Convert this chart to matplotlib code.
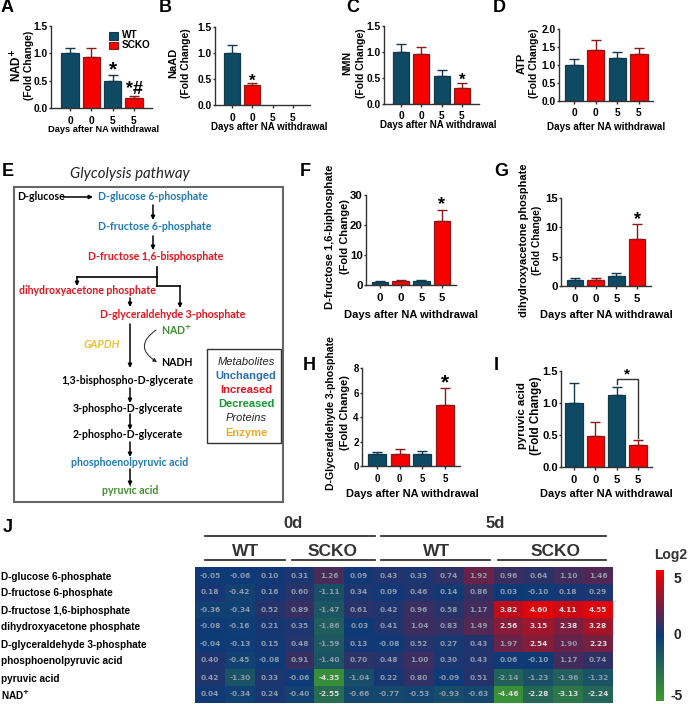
import numpy as np
import matplotlib
matplotlib.use('Agg')
import matplotlib.pyplot as plt
from matplotlib.colors import LinearSegmentedColormap
from matplotlib.patches import Rectangle

# ================= DATA =================
days = ['0', '0', '5', '5']

nad_vals = [1.0, 0.93, 0.49, 0.18]
nad_err = [0.10, 0.16, 0.12, 0.04]
naad_vals = [1.0, 0.38, 0, 0]
naad_err = [0.16, 0.04, 0, 0]
nmn_vals = [1.0, 0.95, 0.53, 0.31]
nmn_err = [0.15, 0.15, 0.12, 0.08]
atp_vals = [1.0, 1.43, 1.21, 1.30]
atp_err = [0.17, 0.27, 0.15, 0.19]
fbp_vals = [1.0, 1.2, 1.4, 21.4]
fbp_err = [0.3, 0.4, 0.3, 3.6]
dhap_vals = [1.0, 0.95, 1.7, 8.0]
dhap_err = [0.3, 0.35, 0.5, 2.5]
gap_vals = [1.0, 1.0, 1.02, 4.95]
gap_err = [0.17, 0.35, 0.23, 1.4]
pyr_vals = [1.0, 0.48, 1.12, 0.35]
pyr_err = [0.31, 0.23, 0.13, 0.07]

metabolites = ['D-glucose 6-phosphate', 'D-fructose 6-phosphate', 'D-fructose 1,6-biphosphate',
               'dihydroxyacetone phosphate', 'D-glyceraldehyde 3-phosphate',
               'phosphoenolpyruvic acid', 'pyruvic acid', 'NAD$^{+}$']
heat_vals = [
    [-0.05, -0.06, 0.10, 0.31, 1.26, 0.09, 0.43, 0.33, 0.74, 1.92, 0.96, 0.64, 1.10, 1.46],
    [0.18, -0.42, 0.16, 0.60, -1.11, 0.34, 0.09, 0.46, 0.14, 0.86, 0.03, -0.10, 0.18, 0.29],
    [-0.36, -0.34, 0.52, 0.89, -1.47, 0.61, 0.42, 0.96, 0.58, 1.17, 3.82, 4.60, 4.11, 4.55],
    [-0.08, -0.16, 0.21, 0.35, -1.86, 0.03, 0.41, 1.04, 0.83, 1.49, 2.56, 3.15, 2.38, 3.28],
    [-0.04, -0.13, 0.15, 0.48, -1.59, 0.13, -0.08, 0.52, 0.27, 0.43, 1.97, 2.54, 1.90, 2.23],
    [0.40, -0.45, -0.08, 0.91, -1.40, 0.70, 0.48, 1.00, 0.30, 0.43, 0.06, -0.10, 1.17, 0.74],
    [0.42, -1.30, 0.33, -0.06, -4.35, -1.04, 0.22, 0.80, -0.09, 0.51, -2.14, -1.23, -1.96, -1.32],
    [0.04, -0.34, 0.24, -0.40, -2.55, -0.66, -0.77, -0.53, -0.93, -0.63, -4.46, -2.28, -3.13, -2.24],
]

# ================= STYLE =================
W, H = 688, 704
wt_color = '#0e4a63'
ko_color = '#f70000'
axis_color = '#333333'
blue = '#1f7ab8'
red = '#e5141e'
green = '#3f8f2f'
xlabel = 'Days after NA withdrawal'
fold = '(Fold Change)'
path_font = 'Lato'

plt.rcParams['font.family'] = ['Liberation Sans', 'DejaVu Sans']
plt.rcParams['font.weight'] = 'bold'
plt.rcParams['axes.linewidth'] = 1.0

fig = plt.figure(figsize=(W / 100, H / 100), dpi=100)
renderer = fig.canvas.get_renderer()

# background axes in pixel coordinates for labels and the pathway
bg = fig.add_axes([0, 0, 1, 1])
bg.set_xlim(0, W)
bg.set_ylim(H, 0)
bg.axis('off')


def px_axes(left, right, top, bottom):
    return fig.add_axes([left / W, 1 - bottom / H, (right - left) / W, (bottom - top) / H])


def fit_label(s, x, y, length, rotation=90):
    # font size scaled so the label spans the measured length in pixels
    t = bg.text(x, y, s, rotation=rotation, ha='center', va='center', fontsize=8)
    box = t.get_window_extent(renderer)
    span = box.height if rotation == 90 else box.width
    t.set_fontsize(8 * length / span)
    return t


def bar_panel(vals, err, left, right, bottom, top, ymax, yticks, c0, c3, ylab, lab_x, lab_y, lab_len,
              xlab_xy, xlab_len, tick_size=7.4):
    ax = px_axes(left, right, top, bottom)
    ax.patch.set_alpha(0)
    step = (c3 - c0) / 3
    x = np.arange(4)
    colors = [wt_color, ko_color, wt_color, ko_color]
    edges = ['#123a4c', '#8a1a1a', '#123a4c', '#8a1a1a']
    for i in x:
        if vals[i] == 0:
            continue
        ax.bar(i, vals[i], width=0.8, color=colors[i], edgecolor=edges[i], linewidth=0.9)
        ax.errorbar(i, vals[i], yerr=[[0], [err[i]]], color=edges[i], capsize=3.5, capthick=1, elinewidth=1)
    ax.set_xlim((left - c0) / step, (right - c0) / step)
    ax.set_ylim(0, ymax)
    ax.set_xticks(x)
    ax.set_xticklabels(days, fontsize=tick_size)
    ax.set_yticks([float(t) for t in yticks])
    ax.set_yticklabels(yticks, fontsize=tick_size)
    ax.tick_params(axis='x', length=2.5, width=1, pad=3, color=axis_color)
    ax.tick_params(axis='y', length=1.5, width=1, pad=0.8, color=axis_color)
    ax.spines['top'].set_visible(False)
    ax.spines['right'].set_visible(False)
    ax.spines['left'].set_color(axis_color)
    ax.spines['bottom'].set_color(axis_color)
    fit_label(ylab, lab_x[0], lab_y, lab_len[0])
    fit_label(fold, lab_x[1], lab_y, lab_len[1])
    fit_label(xlabel, xlab_xy[0], xlab_xy[1], xlab_len, rotation=0)
    return ax


def star(ax, i, y, s='*', size=15):
    ax.text(i, y, s, ha='center', va='center', fontsize=size)


# ----- Top row -----
ax_a = bar_panel(nad_vals, nad_err, 51, 152, 108, 25.7, 1.5, ['0.0', '0.5', '1.0', '1.5'], 70, 134,
                 'NAD$^{+}$', (17, 29), 65, (34, 69), (104, 129), 111)
star(ax_a, 2, 0.69)
star(ax_a, 3, 0.33, '*#', size=13)
ax_b = bar_panel(naad_vals, naad_err, 215, 310, 105.3, 26.7, 1.5, ['0.0', '0.5', '1.0', '1.5'], 232, 293,
                 'NaAD', (173, 186), 63, (30, 70), (269, 127), 117)
star(ax_b, 1, 0.45, size=12)
ax_c = bar_panel(nmn_vals, nmn_err, 384, 479, 103.7, 25.7, 1.5, ['0.0', '0.5', '1.0', '1.5'], 401, 462,
                 'NMN', (347, 361), 63, (24, 70), (438, 125), 117)
star(ax_c, 3, 0.45, size=12)
ax_d = bar_panel(atp_vals, atp_err, 559, 653, 100.7, 29.3, 2.0, ['0.0', '0.5', '1.0', '1.5', '2.0'], 574, 639,
                 'ATP', (522, 534), 63, (21, 70), (606, 127), 119)

# ----- Right panels -----
ax_f = bar_panel(fbp_vals, fbp_err, 366, 456, 285, 195, 30, ['0', '10', '20', '30'], 380, 442,
                 'D-fructose 1,6-biphosphate', (330, 345), 237, (144, 75), (411, 315), 135, tick_size=8.2)
star(ax_f, 3, 26.8, size=13)
ax_g = bar_panel(dhap_vals, dhap_err, 561, 651, 286, 198, 15, ['0', '5', '10', '15'], 575, 637,
                 'dihydroxyacetone phosphate', (524, 537), 240, (153, 69), (606, 315), 133, tick_size=8.2)
star(ax_g, 3, 11.3, size=13)
ax_h = bar_panel(gap_vals, gap_err, 362, 460, 466, 368, 8, ['0', '2', '4', '6', '8'], 377, 445,
                 'D-Glyceraldehyde 3-phosphate', (331, 345), 413, (156, 75), (412, 494), 132, tick_size=7.0)
star(ax_h, 3, 6.8)
ax_i = bar_panel(pyr_vals, pyr_err, 561, 652, 467, 371, 1.5, ['0.0', '0.5', '1.0', '1.5'], 574, 638,
                 'pyruvic acid', (522, 536), 416, (67, 78), (606, 494), 132, tick_size=8.0)
ax_i.plot([2, 2, 3, 3], [1.3, 1.375, 1.375, 0.46], color='#333333', lw=1)
star(ax_i, 2.5, 1.44, size=11)

# legend of panel A
bg.add_patch(Rectangle((109, 32), 9, 7.5, facecolor=wt_color, edgecolor='#123a4c', lw=0.8))
bg.add_patch(Rectangle((109, 41.5), 9, 7.5, facecolor=ko_color, edgecolor='#8a1a1a', lw=0.8))
bg.text(122, 35.5, 'WT', va='center', fontsize=7.2)
bg.text(122, 45, 'SCKO', va='center', fontsize=7.2)

# panel letters
letters = [('A', 1, 8), ('B', 159, 8), ('C', 346, 8), ('D', 493, 8), ('E', 2, 172),
           ('F', 300, 172), ('G', 494, 172), ('H', 303, 365), ('I', 494, 365), ('J', 3, 527)]
for s, lx, ly in letters:
    bg.text(lx, ly, s, fontsize=13, va='center', ha='left')

# ----- Panel E pathway -----
bg.add_patch(Rectangle((14, 187), 269, 315, facecolor='white', edgecolor='#666666', lw=1.5))
bg.text(130, 174, 'Glycolysis pathway', family='Lato', style='italic', fontweight='normal',
        fontsize=10.8, ha='center', va='center', color='#222222')

path_labels = [
    ('D-glucose', 17, 197, 'black', 'left'),
    ('D-glucose 6-phosphate', 153, 197, blue, 'center'),
    ('D-fructose 6-phosphate', 155, 227, blue, 'center'),
    ('D-fructose 1,6-bisphosphate', 156, 257, red, 'center'),
    ('dihydroxyacetone phosphate', 87, 291, red, 'center'),
    ('D-glyceraldehyde 3-phosphate', 173, 315, red, 'center'),
    ('NAD$^{+}$', 161, 330, green, 'left'),
    ('NADH', 161, 363, 'black', 'left'),
    ('1,3-bisphospho-D-glycerate', 127, 381, 'black', 'center'),
    ('3-phospho-D-glycerate', 128, 408, 'black', 'center'),
    ('2-phospho-D-glycerate', 128, 434, 'black', 'center'),
    ('phosphoenolpyruvic acid', 130, 463, blue, 'center'),
    ('pyruvic acid', 130, 491, green, 'center'),
]
for s, tx, ty, c, ha in path_labels:
    bg.text(tx, ty, s, family=path_font, fontweight='bold', fontsize=7.6, color=c, ha=ha, va='center')
bg.text(102, 345, 'GAPDH', family=path_font, style='italic', fontweight='bold', fontsize=7.8,
        color='#f0c030', ha='center', va='center')

arrows = [((63, 197), (93, 197)), ((153, 205), (153, 220)), ((153, 236), (153, 250)),
          ((77, 277), (77, 286)), ((180, 286), (180, 308)), ((130, 298), (130, 307)),
          ((130, 324), (130, 368)), ((130, 388), (130, 403)), ((130, 414), (130, 430)),
          ((130, 442), (130, 457)), ((130, 469), (130, 486))]
for start, end in arrows:
    bg.annotate('', xy=end, xytext=start,
                arrowprops=dict(arrowstyle='-|>,head_width=0.11,head_length=0.22', color='black', lw=1.1,
                                shrinkA=0, shrinkB=0))
bg.plot([157, 157], [267, 286], color='black', lw=1.2)
bg.plot([77, 157], [277, 277], color='black', lw=1.2)
bg.plot([157, 180], [286, 286], color='black', lw=1.2)
bg.annotate('', xy=(157, 362), xytext=(156, 330),
            arrowprops=dict(arrowstyle='-|>,head_width=0.11,head_length=0.22', color='#222222', lw=0.7,
                            connectionstyle='arc3,rad=0.75', shrinkA=0, shrinkB=0))

# key box
bg.add_patch(Rectangle((207, 349), 74, 94, facecolor='white', edgecolor='#333333', lw=1.0))
key_items = [('Metabolites', 362, '#222222', 'italic', 'normal'), ('Unchanged', 376, '#2a6fb5', 'normal', 'bold'),
             ('Increased', 390, '#e5141e', 'normal', 'bold'), ('Decreased', 404, '#129a30', 'normal', 'bold'),
             ('Proteins', 418, '#222222', 'italic', 'normal'), ('Enzyme', 433, '#f0a830', 'normal', 'bold')]
for s, ty, c, st, wgt in key_items:
    bg.text(246, ty, s, fontsize=8.0, color=c, style=st, fontweight=wgt, ha='center', va='center')

# ----- Panel J heatmap -----
heat = np.array(heat_vals)
cmap = LinearSegmentedColormap.from_list('gbr', ['#3f9a30', '#0e3a78', '#f40000'])
ax_j = px_axes(195, 613, 567, 703)
im = ax_j.imshow(heat, cmap=cmap, vmin=-5, vmax=5, aspect='auto', interpolation='nearest')
ax_j.axis('off')
for r in range(heat.shape[0]):
    for c in range(heat.shape[1]):
        v = heat[r, c]
        col = '#dcdcdc' if abs(v) >= 2.2 else '#8f9bab'
        ax_j.text(c, r, f'{v:.2f}', ha='center', va='center', color=col, fontsize=5.3,
                  family='DejaVu Sans', fontweight='bold')

row_h = (703 - 567) / 8
for r, name in enumerate(metabolites):
    bg.text(1, 568 + row_h * (r + 0.5), name, fontsize=7.2, ha='left', va='center')

# header lines and group names
header_lines = [(205, 375, 536), (381, 606, 536), (205, 285, 560), (292, 375, 560), (381, 490, 560), (498, 606, 560)]
for x0, x1, yy in header_lines:
    bg.plot([x0, x1], [yy, yy], color='#333333', lw=1.3)
bg.text(293, 523, '0d', fontsize=12, ha='center', va='center', color='#333333')
bg.text(495, 523, '5d', fontsize=12, ha='center', va='center', color='#333333')
for s, tx in [('WT', 246), ('SCKO', 333), ('WT', 437), ('SCKO', 556)]:
    bg.text(tx, 551, s, fontsize=12.5, ha='center', va='center', color='#333333')

# colour bar
cax = px_axes(656, 664, 570, 701)
cb = fig.colorbar(im, cax=cax)
cb.set_ticks([])
cb.outline.set_visible(False)
bg.text(671, 555, 'Log2', fontsize=10, ha='center', va='center', color='#333333')
for s, ty in [('5', 579), ('0', 635), ('-5', 696)]:
    bg.text(677, ty, s, fontsize=10, ha='center', va='center', color='#222222')

plt.savefig('out.png', dpi=100)
plt.close()
